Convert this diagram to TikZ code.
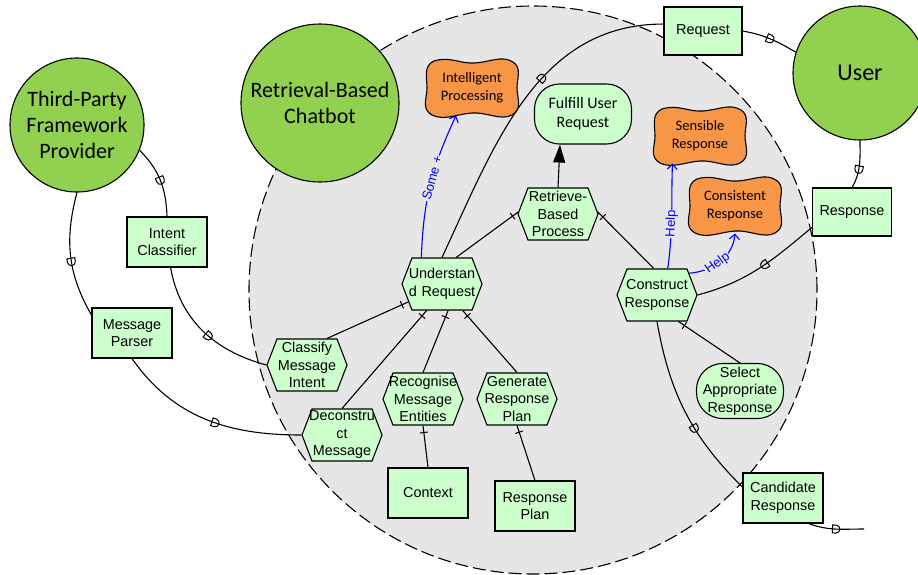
\documentclass[tikz,border=0pt]{standalone}
\usepackage{fontspec}
\setmainfont{Liberation Sans}
\newfontfamily\calfont{Carlito}
\usetikzlibrary{arrows.meta, positioning, shapes.symbols, decorations.markings}

\definecolor{actorgreen}{HTML}{92D050}
\definecolor{lightgreen}{HTML}{CCFFCC}
\definecolor{softorange}{HTML}{F79646}
\definecolor{boundgray}{HTML}{E6E6E6}

\newcommand{\boxfont}{\fontsize{14.4}{17.5}\selectfont}

\begin{document}
\begin{tikzpicture}[
    x=1pt, y=1pt, line width=1.1pt,
    boundary/.style={circle, draw, dash pattern=on 13pt off 5pt, fill=boundgray, minimum size=568pt, inner sep=0pt},
    actor/.style={circle, draw, fill=actorgreen, align=center, inner sep=0pt, font=\calfont\fontsize{22}{26}\selectfont},
    resource/.style={rectangle, draw, fill=lightgreen, minimum width=80pt, minimum height=50pt, inner sep=0pt, align=center, font=\boxfont},
    task/.style={signal, signal to=east and west, signal pointer angle=138, draw, fill=lightgreen, minimum width=80pt, minimum height=52pt, text width=70pt, inner xsep=-5pt, inner ysep=0pt, align=center, font=\boxfont},
    goal/.style={rectangle, rounded corners=25pt, draw, fill=lightgreen, inner sep=0pt, align=center, font=\boxfont},
    sgtext/.style={rectangle, minimum width=94pt, minimum height=54pt, inner sep=0pt, align=center, font=\calfont\fontsize{14.5}{18}\selectfont},
    softgoal/.pic={
        \draw[fill=softorange] (-38,27) .. controls (-22,32) and (-12,24) .. (3,25)
            .. controls (18,26) and (30,33) .. (41,26)
            .. controls (50,20) and (45,10) .. (45,0)
            .. controls (45,-10) and (51,-21) .. (40,-27)
            .. controls (29,-33) and (15,-24) .. (0,-25)
            .. controls (-15,-26) and (-28,-33) .. (-40,-27)
            .. controls (-51,-21) and (-45,-10) .. (-45,0)
            .. controls (-45,10) and (-49,22) .. (-38,27) -- cycle;
    },
    dep/.style={decoration={markings, mark=at position #1 with {\draw[line width=1pt] (-3.5pt,-4pt) -- (-3.5pt,4pt) -- (0pt,4pt) arc[start angle=90, end angle=-90, radius=4pt] -- cycle;}}, postaction={decorate}},
    dec/.style={decoration={markings, mark=at position -7pt with {\draw[line width=1pt] (0pt,-4pt) -- (0pt,4pt);}}, postaction={decorate}},
    meansend/.style={-{Triangle[length=18pt, width=12pt]}},
    contrib/.style={blue, -{Straight Barb[length=5pt, width=10pt]}},
    lbl/.style={sloped, allow upside down, fill=boundgray, inner sep=1pt, font=\fontsize{13}{15}\selectfont}
]
\useasboundingbox (0,0) rectangle (918,-574);

% boundary of the chatbot
\node[boundary] (bnd) at (533,-290) {};

% actors
\node[actor, minimum size=134pt] (tpf) at (77,-125) {Third-Party\\Framework\\Provider};
\node[actor, minimum size=158pt] (rbc) at (320,-103) {Retrieval-Based\\Chatbot};
\node[actor, minimum size=134pt, font=\calfont\fontsize{24}{28}\selectfont] (usr) at (860,-73) {User};

% resources
\node[resource, minimum width=78pt, minimum height=48pt] (req) at (703,-31) {Request};
\node[resource, minimum width=79pt, minimum height=48pt] (resp) at (852,-212) {Response};
\node[resource] (intc) at (167,-242) {Intent\\Classifier};
\node[resource] (mpar) at (132,-333) {Message\\Parser};
\node[resource] (ctx) at (428,-493) {Context};
\node[resource] (rplan) at (535,-506) {Response\\Plan};
\node[resource] (cand) at (783,-498) {Candidate\\Response};

% tasks
\node[task] (und) at (442,-284) {Understan\\d Request};
\node[task] (rbp) at (558,-214) {Retrieve-\\Based\\Process};
\node[task] (cons) at (657,-295) {Construct\\Response};
\node[task] (cmi) at (307,-365) {Classify\\Message\\Intent};
\node[task] (dcm) at (342,-435) {Deconstru\\ct\\Message};
\node[task] (rme) at (423,-399) {Recognise\\Message\\Entities};
\node[task] (grp) at (517,-399) {Generate\\Response\\Plan};

% goals
\node[goal, minimum width=97pt, minimum height=60pt, font=\calfont\fontsize{16}{19}\selectfont] (fur) at (583,-114) {Fulfill User\\Request};
\node[goal, minimum width=87pt, minimum height=55pt, rounded corners=26pt] (sar) at (740,-391) {Select\\Appropriate\\Response};

% softgoals
\pic at (472,-88) {softgoal};
\node[sgtext] (ip) at (472,-88) {Intelligent\\Processing};
\pic at (700,-136) {softgoal};
\node[sgtext] (sr) at (700,-136) {Sensible\\Response};
\pic at (735,-206) {softgoal};
\node[sgtext] (cr) at (735,-206) {Consistent\\Response};

\coordinate (fend) at (864,-529);

% dependencies
\draw[dep=0.5] (tpf.-22) to[out=-45, in=92] (intc.north);
\draw[dep=0.55] (tpf.-90) to[out=-105, in=120] (mpar.156);
\draw[dep=0.55] (intc.-82) to[out=-80, in=165] (cmi.west);
\draw[dep=0.55] (mpar.south) to[out=-55, in=180] (dcm.west);
\draw[dep=0.6] (und.north) to[out=65, in=180] (req.170);
\draw[dep=0.5] (req.east) to[out=-10, in=150] (usr.162);
\draw[dep=0.6] (usr.-90) to[out=-90, in=60] (resp.north);
\draw[dep=0.45] (resp.201) to[out=-140, in=15] (cons.east);
\draw[dep=0.6] (cons.south) to[out=-80, in=135] (cand.165);
\draw[dep=0.5] (cand.-45) to[out=-20, in=180] (fend);

% decompositions
\draw[dec] (und.62) -- (rbp.177);
\draw[dec] (cons.97) -- (rbp.3);
\draw[dec] (cmi.53) -- (und.-152);
\draw[dec] (dcm.north) -- (und.-120);
\draw[dec] (rme.north) -- (und.-77);
\draw[dec] (grp.north) -- (und.-52);
\draw[dec] (ctx.north) -- (rme.south);
\draw[dec] (rplan.north) -- (grp.south);
\draw[dec] (sar.north) -- (cons.-51);

% means-end
\draw[meansend] (rbp.north) -- (fur.-127);

% contributions
\draw[contrib] (und.128) to[out=88, in=-115] node[lbl, pos=0.55] {Some +} (ip.-120);
\draw[contrib] (cons.68) to[out=82, in=-92] node[lbl, pos=0.42] {Help} (sr.-135);
\draw[contrib] (cons.34) to[out=5, in=-95] node[lbl, pos=0.45] {Help} (cr.south);
\end{tikzpicture}
\end{document}
